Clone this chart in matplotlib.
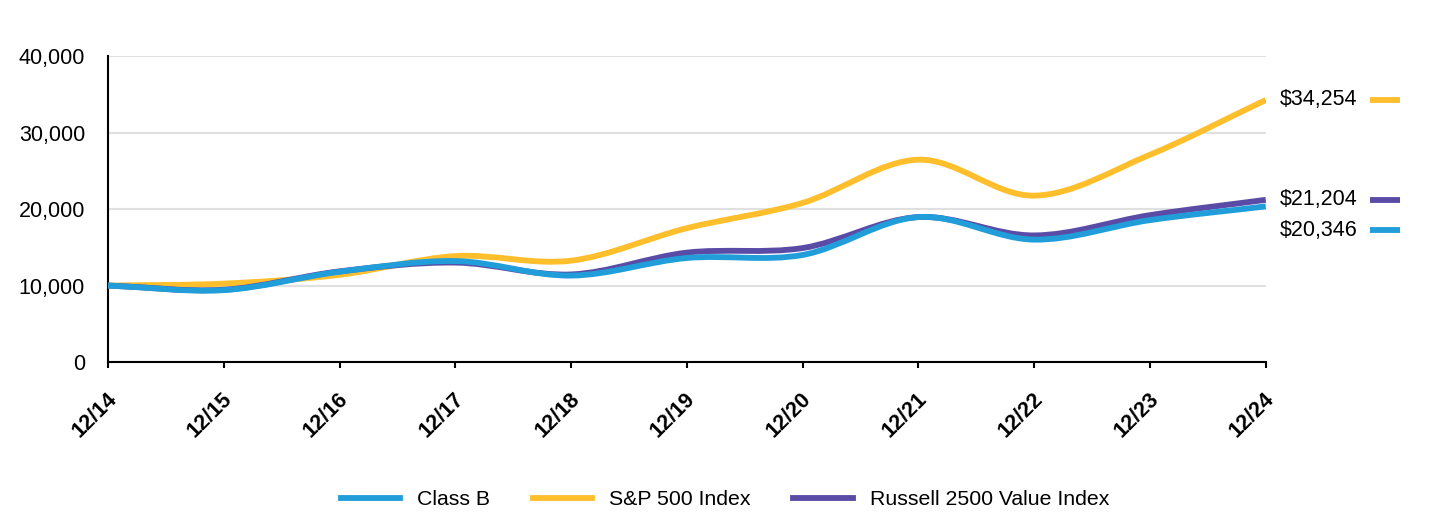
import numpy as np
import matplotlib
matplotlib.use('Agg')
import matplotlib.pyplot as plt
from matplotlib.path import Path
from matplotlib.patches import PathPatch
from matplotlib.lines import Line2D
import matplotlib.transforms as mtransforms

plt.rcParams['font.family'] = ['Liberation Sans', 'DejaVu Sans']

# values (growth of $10,000)
years = ['12/14', '12/15', '12/16', '12/17', '12/18', '12/19', '12/20', '12/21', '12/22', '12/23', '12/24']
class_b = [10000, 9400, 11800, 13200, 11300, 13600, 14000, 18950, 16000, 18550, 20346]
sp500 = [10000, 10250, 11400, 13850, 13250, 17500, 20800, 26450, 21750, 27100, 34254]
russell = [10000, 9450, 11850, 13000, 11450, 14300, 14900, 18950, 16550, 19200, 21204]

names = ['Class B', 'S&P 500 Index', 'Russell 2500 Value Index']
colors = {'Class B': '#219ed9', 'S&P 500 Index': '#ffbe2b', 'Russell 2500 Value Index': '#5a4ba7'}
end_labels = {'Class B': '$20,346', 'S&P 500 Index': '$34,254', 'Russell 2500 Value Index': '$21,204'}


def smooth_path(xs, ys):
    # cubic bezier through the points (catmull-rom style tangents)
    xs = np.asarray(xs, float)
    ys = np.asarray(ys, float)
    n = len(xs)
    m = np.zeros(n)
    for i in range(n):
        if i == 0:
            m[i] = (ys[1] - ys[0]) / (xs[1] - xs[0])
        elif i == n - 1:
            m[i] = (ys[-1] - ys[-2]) / (xs[-1] - xs[-2])
        else:
            m[i] = (ys[i + 1] - ys[i - 1]) / (xs[i + 1] - xs[i - 1])
    verts = [(xs[0], ys[0])]
    codes = [Path.MOVETO]
    for i in range(n - 1):
        h = xs[i + 1] - xs[i]
        verts += [(xs[i] + h / 3, ys[i] + m[i] * h / 3),
                  (xs[i + 1] - h / 3, ys[i + 1] - m[i + 1] * h / 3),
                  (xs[i + 1], ys[i + 1])]
        codes += [Path.CURVE4] * 3
    return Path(verts, codes)


fig = plt.figure(figsize=(14.4, 5.16), dpi=100)
ax = fig.add_axes([0.075, 0.2984, 0.804, 0.593])

x = np.arange(len(years))
series = {'Class B': class_b, 'S&P 500 Index': sp500, 'Russell 2500 Value Index': russell}
LW = 4.2
for name in ['S&P 500 Index', 'Russell 2500 Value Index', 'Class B']:
    patch = PathPatch(smooth_path(x, series[name]), fill=False, edgecolor=colors[name],
                      lw=LW, capstyle='butt', joinstyle='round', zorder=3)
    ax.add_patch(patch)

ax.set_xlim(0, len(years) - 1)
ax.set_ylim(0, 40000)
ax.set_yticks([0, 10000, 20000, 30000, 40000])
ax.set_yticklabels(['0', '10,000', '20,000', '30,000', '40,000'], fontsize=15.5)
ax.set_xticks(x)
ax.set_xticklabels(years, rotation=45, ha='right', rotation_mode='anchor',
                   fontsize=15.5, fontweight='bold')
ax.tick_params(axis='y', length=0, pad=16.5)
ax.tick_params(axis='x', length=4.5, width=1.5, pad=13)
shift = mtransforms.ScaledTranslation(-0.02, -0.02, fig.dpi_scale_trans)
for lab in ax.get_xticklabels():
    lab.set_transform(lab.get_transform() + shift)
ax.grid(axis='y', color='#e0e0e0', lw=1.5)
ax.set_axisbelow(True)
for s in ['top', 'right']:
    ax.spines[s].set_visible(False)
ax.spines['left'].set_linewidth(1.5)
ax.spines['bottom'].set_linewidth(1.5)

# end value labels to the right of the plot
trans = mtransforms.blended_transform_factory(ax.transAxes, ax.transData)
offsets = {'S&P 500 Index': 0, 'Russell 2500 Value Index': 0, 'Class B': -3100}
for name in names:
    yv = series[name][-1] + offsets[name]
    ax.text(1.012, yv, end_labels[name], transform=trans, fontsize=15.5,
            va='center', ha='left')
    ax.plot([1.0898, 1.1157], [yv, yv], transform=trans, color=colors[name],
            lw=LW, clip_on=False, solid_capstyle='butt')

handles = [Line2D([0], [0], color=colors[n], lw=LW) for n in names]
fig.legend(handles, names, loc='center', bbox_to_anchor=(0.5035, 0.032), ncol=3,
           frameon=False, fontsize=15.3, handlelength=2.8, columnspacing=2.0,
           handletextpad=0.8)

fig.savefig('out.png', dpi=100, facecolor='white')
